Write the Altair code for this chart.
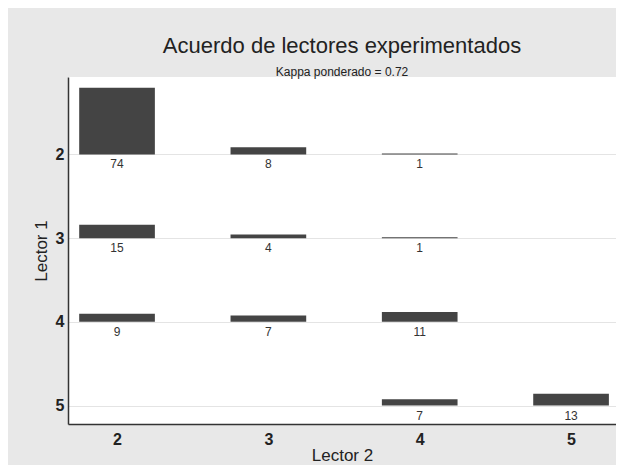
import altair as alt
import pandas as pd

# Data
lector1 = [2, 2, 2, 3, 3, 3, 4, 4, 4, 5, 5]
lector2 = [2, 3, 4, 2, 3, 4, 2, 3, 4, 4, 5]
counts = [74, 8, 1, 15, 4, 1, 9, 7, 11, 7, 13]
ticks = [2, 3, 4, 5]

df = pd.DataFrame({"lector1": lector1, "lector2": lector2, "n": counts})

FONT = "Liberation Sans"
HALF = 0.25      # half bar width in category units
K = 0.01076      # bar height per count, in row units

xscale = alt.Scale(domain=[1.676, 5.297], nice=False, zero=False)
yscale = alt.Scale(domain=[1.074, 5.221], nice=False, zero=False, reverse=True)

base = alt.Chart(df).transform_calculate(
    x0=f"datum.lector2 - {HALF}",
    x1=f"datum.lector2 + {HALF}",
    top=f"datum.lector1 - datum.n * {K}",
)

bars = base.mark_rect(color="#444444").encode(
    x=alt.X("x0:Q", scale=xscale,
            axis=alt.Axis(values=ticks, title="Lector 2", grid=False, ticks=False,
                          labelPadding=7, format="d")),
    x2="x1:Q",
    y=alt.Y("lector1:Q", scale=yscale,
            axis=alt.Axis(values=ticks, title="Lector 1", grid=True, ticks=False,
                          labelPadding=4, format="d")),
    y2="top:Q",
)

labels = base.mark_text(baseline="middle", dy=10, fontSize=12, color="#333333",
                        font=FONT).encode(
    x=alt.X("lector2:Q", scale=xscale),
    y=alt.Y("lector1:Q", scale=yscale),
    text="n:Q",
)

chart = (bars + labels).properties(
    width=548,
    height=347,
    autosize=alt.AutoSizeParams(type="none"),
    padding={"left": 60, "top": 69, "right": 0, "bottom": 41},
    background="#e8e8e8",
    title=alt.TitleParams(
        text="Acuerdo de lectores experimentados",
        subtitle="Kappa ponderado = 0.72",
        fontSize=22, fontWeight="normal", font=FONT, color="#222222",
        subtitleFontSize=12, subtitleFont=FONT, subtitleColor="#222222",
        anchor="middle", offset=-2, subtitlePadding=9,
    ),
).configure_view(
    fill="white", stroke=None
).configure_axis(
    labelFont=FONT, titleFont=FONT, labelFontSize=16, titleFontSize=17,
    labelFontWeight="bold",
    labelColor="#222222", titleColor="#222222", titleFontWeight="normal",
    domainColor="#333333", domainWidth=1.5, gridColor="#e4e4e4", gridWidth=1,
).configure_axisY(
    titlePadding=5
).configure_axisX(
    titlePadding=0
)

chart.save("out.html", embed_options={"renderer": "svg", "actions": False})
